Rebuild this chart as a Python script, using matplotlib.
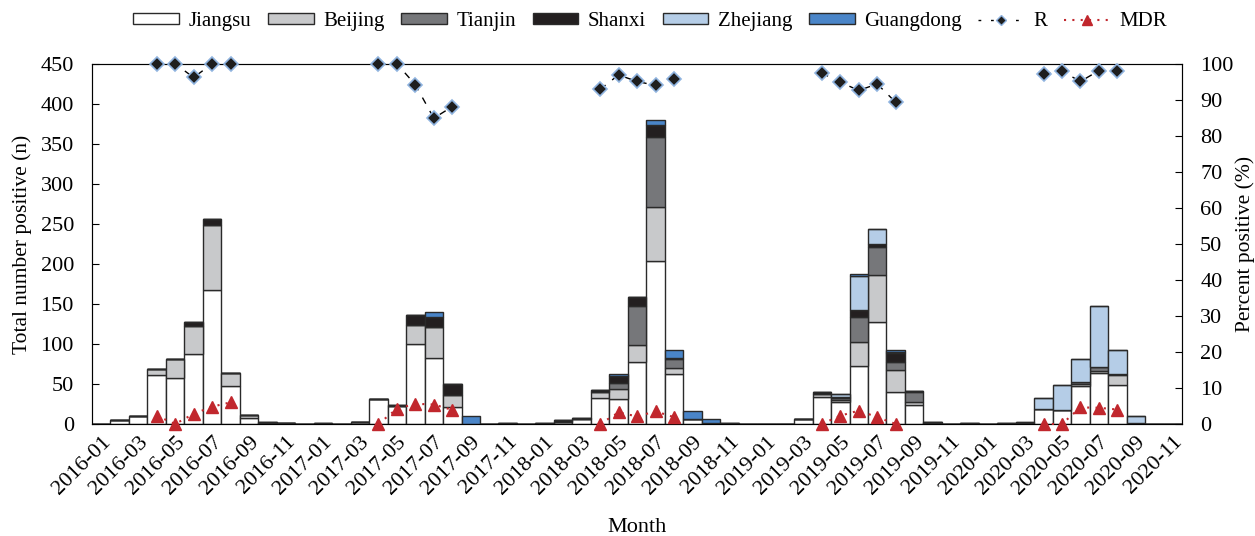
import matplotlib
matplotlib.use('Agg')

import numpy as np
import matplotlib.pyplot as plt
from matplotlib.patches import Patch
from matplotlib.lines import Line2D
from matplotlib.transforms import ScaledTranslation

# months 2016-01 .. 2020-11
months = ["{}-{:02d}".format(y, m) for y in range(2016, 2021) for m in range(1, 13)][:59]

jiangsu = [0, 5, 10, 61, 58, 88, 167, 47, 7, 1, 1, 0,
           0, 0, 2, 31, 23, 100, 82, 21, 0, 0, 0, 0,
           0, 3, 6, 33, 31, 78, 204, 63, 6, 1, 0, 0,
           0, 0, 6, 34, 27, 73, 128, 40, 24, 1, 0, 0,
           0, 0, 1, 19, 18, 48, 64, 49, 1, 0, 0]
beijing = [0, 0, 0, 8, 23, 35, 82, 17, 4, 0, 0, 0,
           0, 0, 1, 0, 0, 24, 39, 15, 0, 0, 0, 0,
           0, 0, 0, 7, 13, 21, 67, 7, 0, 0, 0, 0,
           0, 0, 0, 4, 3, 30, 58, 28, 4, 0, 0, 0,
           0, 0, 0, 0, 0, 2, 2, 12, 0, 0, 0]
tianjin = [0, 0, 0, 0, 0, 0, 0, 0, 0, 0, 0, 0,
           0, 0, 0, 0, 0, 0, 0, 0, 0, 0, 0, 0,
           0, 0, 0, 0, 7, 49, 88, 11, 0, 0, 0, 0,
           0, 0, 0, 0, 3, 31, 35, 10, 12, 0, 0, 0,
           0, 0, 0, 0, 0, 3, 5, 1, 0, 0, 0]
shanxi = [0, 0, 0, 0, 0, 4, 7, 0, 0, 2, 0, 0,
          1, 0, 0, 0, 1, 12, 13, 14, 0, 0, 1, 0,
          1, 2, 2, 3, 9, 11, 15, 2, 0, 0, 1, 0,
          0, 0, 0, 2, 1, 9, 4, 11, 1, 1, 0, 1,
          0, 1, 0, 0, 0, 0, 0, 0, 0, 0, 0]
zhejiang = [0, 0, 0, 0, 0, 0, 0, 0, 0, 0, 0, 0,
            0, 0, 0, 0, 0, 0, 0, 0, 0, 0, 0, 0,
            0, 0, 0, 0, 0, 0, 0, 0, 0, 0, 0, 0,
            0, 0, 0, 0, 3, 42, 18, 1, 0, 0, 0, 0,
            0, 0, 2, 14, 31, 28, 77, 30, 9, 0, 0]
guangdong = [0, 0, 0, 0, 0, 0, 0, 0, 0, 0, 0, 0,
             0, 0, 0, 0, 0, 0, 6, 0, 10, 0, 0, 0,
             0, 0, 0, 0, 2, 0, 6, 10, 10, 5, 0, 0,
             0, 0, 0, 0, 0, 2, 0, 3, 0, 0, 0, 0,
             0, 0, 0, 0, 0, 0, 0, 0, 0, 0, 0]

# percent positive, None = no point
N = None
r_pct = [N, N, N, 100, 100, 96.2, 100, 100, N, N, N, N,
         N, N, N, 100, 100, 94.2, 84.9, 88.1, N, N, N, N,
         N, N, N, 92.9, 96.9, 95.1, 94.0, 95.8, N, N, N, N,
         N, N, N, 97.4, 94.9, 92.6, 94.4, 89.3, N, N, N, N,
         N, N, N, 97.2, 97.9, 95.1, 98.1, 97.9, N, N, N]
mdr_pct = [N, N, N, 2.3, 0, 2.8, 4.8, 6.0, N, N, N, N,
           N, N, N, 0, 4.2, 5.6, 5.4, 3.9, N, N, N, N,
           N, N, N, 0, 3.2, 2.1, 3.5, 1.9, N, N, N, N,
           N, N, N, 0, 2.3, 3.7, 1.9, 0, N, N, N, N,
           N, N, N, 0, 0, 4.6, 4.5, 4.0, N, N, N]

provinces = ["Jiangsu", "Beijing", "Tianjin", "Shanxi", "Zhejiang", "Guangdong"]
series = [jiangsu, beijing, tianjin, shanxi, zhejiang, guangdong]
colors = ["#ffffff", "#c8c9cb", "#76777a", "#231f20", "#b5cde7", "#4a85c8"]

plt.rcParams['font.family'] = ['Liberation Serif', 'DejaVu Serif']
plt.rcParams['font.size'] = 16

fig = plt.figure(figsize=(12.55, 5.36), dpi=100)
ax = fig.add_axes([0.0733, 0.209, 0.8686, 0.672])
x = np.arange(len(months))

bottom = np.zeros(len(months))
for name, vals, col in zip(provinces, series, colors):
    vals = np.array(vals, dtype=float)
    ax.bar(x, vals, width=1.0, bottom=bottom, color=col, edgecolor="#2a2a2a",
           linewidth=1.0, label=name)
    bottom += vals

ax.set_xlim(-0.5, len(months) - 0.5)
ax.set_ylim(0, 450)
ax.set_yticks(np.arange(0, 451, 50))
ax.set_xticks(x[::2])
ax.set_xticklabels(months[::2], rotation=45, ha="right", rotation_mode="anchor")
shift = ScaledTranslation(-0.05, 0, fig.dpi_scale_trans)
for lbl in ax.get_xticklabels():
    lbl.set_transform(lbl.get_transform() + shift)
ax.tick_params(axis="x", length=0, pad=6, labelsize=16)
ax.tick_params(axis="y", direction="in", length=5, pad=13, labelsize=16)
ax.set_ylabel("Total number positive (n)", fontsize=15.5, labelpad=6)
ax.set_xlabel("Month", fontsize=16, labelpad=14)
for sp in ax.spines.values():
    sp.set_color("#444444")

ax2 = ax.twinx()
ax2.set_ylim(0, 100)
ax2.set_yticks(np.arange(0, 101, 10))
ax2.tick_params(axis="y", direction="in", length=5, pad=13, labelsize=16)
ax2.set_ylabel("Percent positive (%)", fontsize=15.5, labelpad=1)

r = np.array([np.nan if v is None else v for v in r_pct])
mdr = np.array([np.nan if v is None else v for v in mdr_pct])
ax2.plot(x, r, color="black", linestyle=(0, (5, 6)), linewidth=1.0,
         marker="D", markersize=7.5, markerfacecolor="#1e1e1e",
         markeredgecolor="#8fb3df", markeredgewidth=1.2, clip_on=False, zorder=5)
ax2.plot(x, mdr, color="#c1272d", linestyle=(0, (1, 3)), linewidth=1.5,
         marker="^", markersize=9, markerfacecolor="#c1272d",
         markeredgecolor="#c1272d", clip_on=False, zorder=5)

handles = [Patch(facecolor=c, edgecolor="#2a2a2a", linewidth=1.0) for c in colors]
handles.append(Line2D([], [], color="black", linestyle=(0, (2, 7)), linewidth=1.0,
                      marker="D", markersize=5, markerfacecolor="#1e1e1e",
                      markeredgecolor="#8fb3df"))
handles.append(Line2D([], [], color="#c1272d", linestyle=(0, (1, 3)), linewidth=1.5,
                      marker="^", markersize=7, markerfacecolor="#c1272d",
                      markeredgecolor="#c1272d"))
labels = provinces + ["R", "MDR"]
fig.legend(handles, labels, loc="center", bbox_to_anchor=(0.518, 0.96), ncol=8,
           frameon=False, handlelength=2.2, handleheight=0.38, handletextpad=0.45,
           columnspacing=0.8, fontsize=15)

fig.savefig("out.png", dpi=100)
